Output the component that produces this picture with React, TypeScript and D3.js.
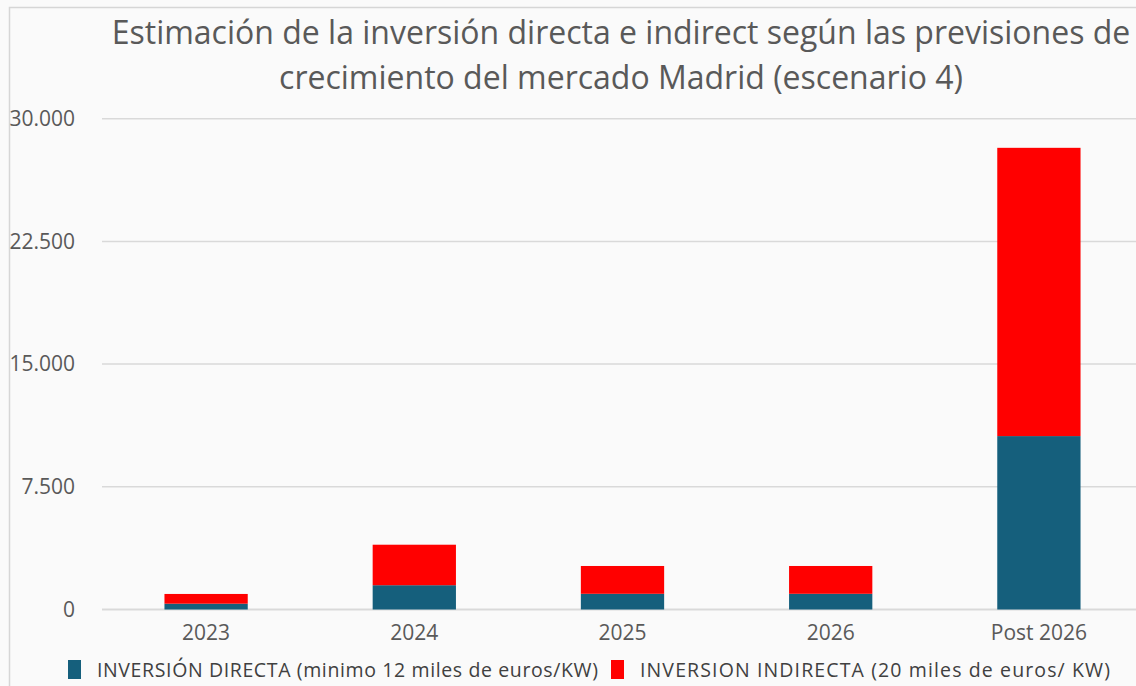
import React, { useEffect } from "react";
import * as d3 from "d3";

// Data
const categories = ["2023", "2024", "2025", "2026", "Post 2026"];
const directa = [355, 1485, 960, 960, 10600];
const indirecta = [595, 2475, 1700, 1700, 17620];
const yTicks = [0, 7500, 15000, 22500, 30000];
const titleLines = [
  "Estimación de la inversión directa e indirect según las previsiones de",
  "crecimiento del mercado Madrid (escenario 4)",
];
const legendLabels = [
  "INVERSIÓN DIRECTA (minimo 12 miles de euros/KW)",
  "INVERSION INDIRECTA (20 miles de euros/ KW)",
];

const W = 1136;
const H = 686;
const font = "'Open Sans', sans-serif";
const colors = ["#155f7c", "#ff0000"];

const esLocale = d3.formatLocale({
  decimal: ",",
  thousands: ".",
  grouping: [3],
  currency: ["", " €"],
});
const fmt = esLocale.format(",d");

const App = () => {
  useEffect(() => {
    document.body.style.margin = "0";
  }, []);

  // scales
  const x = d3
    .scaleBand()
    .domain(categories)
    .range([102, 1143])
    .paddingInner(0.6)
    .paddingOuter(0.3);
  const y = d3.scaleLinear().domain([0, 30000]).range([609.5, 118.7]);

  const rows = categories.map((c, i) => ({ cat: c, directa: directa[i], indirecta: indirecta[i] }));
  const stacked = d3.stack().keys(["directa", "indirecta"])(rows as any);

  return (
    <svg width={W} height={H} style={{ display: "block", background: "#fafafa" }}>
      {/* frame */}
      <rect x={9.5} y={7.5} width={W} height={H} fill="none" stroke="#d6d6d6" strokeWidth={1.5} />

      {/* title */}
      {titleLines.map((t, i) => (
        <text
          key={i}
          x={621}
          y={44 + i * 45}
          textAnchor="middle"
          fontFamily={font}
          fontSize={32}
          fill="#595959"
        >
          {t}
        </text>
      ))}

      {/* gridlines + y labels */}
      {yTicks.map((t) => (
        <g key={t}>
          <line x1={102} x2={W} y1={y(t)} y2={y(t)} stroke="#d9d9d9" strokeWidth={t === 0 ? 2 : 1.5} />
          <text
            x={75}
            y={y(t)}
            dy="0.35em"
            textAnchor="end"
            fontFamily={font}
            fontSize={21}
            fill="#595959"
          >
            {fmt(t)}
          </text>
        </g>
      ))}

      {/* bars */}
      {stacked.map((s, si) => (
        <g key={s.key} fill={colors[si]}>
          {s.map((d: any, i: number) => (
            <rect
              key={i}
              x={x(categories[i])}
              y={y(d[1])}
              width={x.bandwidth()}
              height={y(d[0]) - y(d[1])}
            />
          ))}
        </g>
      ))}

      {/* x labels */}
      {categories.map((c) => (
        <text
          key={c}
          x={(x(c) as number) + x.bandwidth() / 2}
          y={640}
          textAnchor="middle"
          fontFamily={font}
          fontSize={21}
          fill="#595959"
        >
          {c}
        </text>
      ))}

      {/* legend */}
      {legendLabels.map((l, i) => {
        const lx = i === 0 ? 68 : 611;
        const len = i === 0 ? 501 : 470;
        return (
          <g key={l}>
            <rect x={lx} y={660} width={13} height={19} fill={colors[i]} />
            <text
              x={lx + 29}
              y={677}
              fontFamily={font}
              fontSize={19.5}
              fill="#404040"
              textLength={len}
              lengthAdjust="spacing"
            >
              {l}
            </text>
          </g>
        );
      })}
    </svg>
  );
};

export default App;
